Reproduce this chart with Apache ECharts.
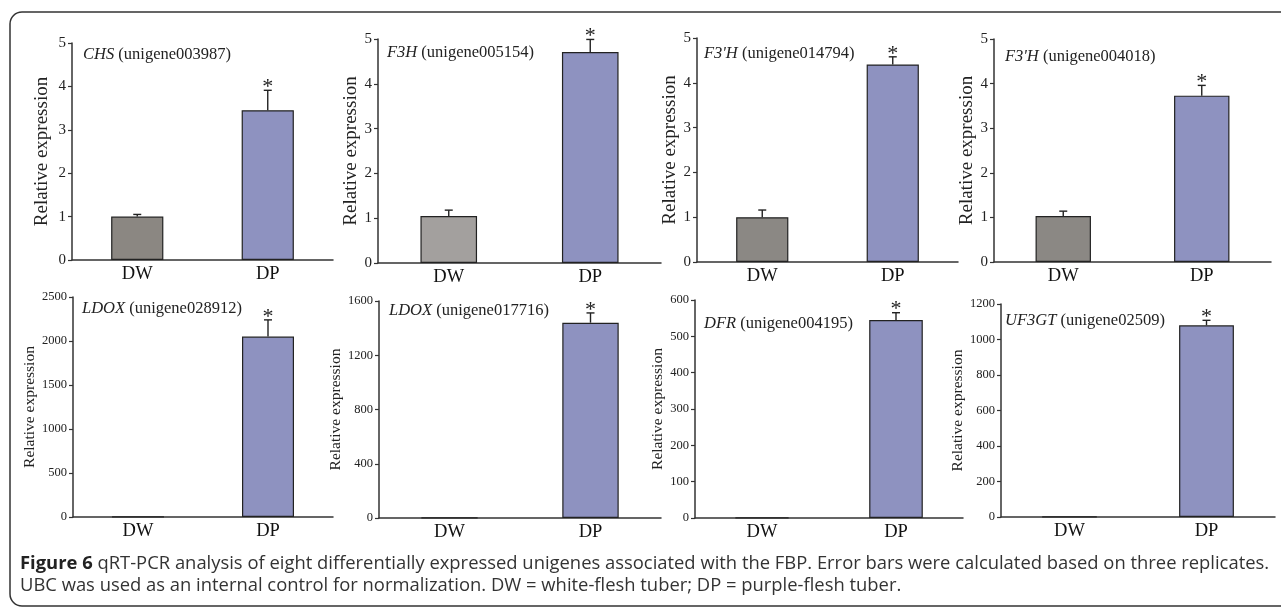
<!DOCTYPE html>
<html><head><meta charset="utf-8">
<script src="https://cdn.jsdelivr.net/npm/echarts@6/dist/echarts.min.js"></script>
<style>html,body{margin:0;padding:0;background:#fff}#c{width:1281px;height:609px}</style>
</head><body><div id="c"></div>
<script>
// ---- data ----
const categories = ['DW', 'DP'];
const genes = ['CHS', 'F3H', "F3'H", "F3'H", 'LDOX', 'LDOX', 'DFR', 'UF3GT'];
const unigeneIds = ['unigene003987', 'unigene005154', 'unigene014794', 'unigene004018',
                    'unigene028912', 'unigene017716', 'unigene004195', 'unigene02509'];
const dwValues = [1.00, 1.05, 1.00, 1.03, 1, 1, 1, 1];
const dwErrors = [0.05, 0.13, 0.16, 0.11, 0, 0, 0, 0];
const dpValues = [3.45, 4.71, 4.41, 3.73, 2050, 1440, 545, 1080];
const dpErrors = [0.46, 0.28, 0.17, 0.23, 190, 72, 20, 28];
const yMaxima = [5, 5, 5, 5, 2500, 1600, 600, 1200];
const yIntervals = [1, 1, 1, 1, 500, 400, 100, 200];
const yAxisName = 'Relative expression';
const captionBold = 'Figure 6';
const captionLine1 = ' qRT-PCR analysis of eight differentially expressed unigenes associated with the FBP. Error bars were calculated based on three replicates.';
const captionLine2 = 'UBC was used as an internal control for normalization. DW = white-flesh tuber; DP = purple-flesh tuber.';

// ---- layout / style ----
const grids = [
  {left: 72,  top: 43,  width: 261, height: 217},
  {left: 378, top: 39,  width: 283, height: 224},
  {left: 697, top: 38,  width: 261, height: 224},
  {left: 994, top: 39,  width: 277, height: 223},
  {left: 73,  top: 297, width: 260, height: 220},
  {left: 379, top: 301, width: 282, height: 217},
  {left: 695, top: 300, width: 268, height: 218},
  {left: 1001,top: 304, width: 274, height: 213}
];
const titlePos = [[83,46],[387,44],[704,45],[1005,48],[82,300],[389,302],[704,315],[1005,312]];
const nameGaps = [20, 13, 16, 13, 16, 25, 14, 18];
const nameSizes = [19, 19, 19, 19, 15.5, 15.5, 15.5, 15.5];
const tickSizes = [15, 15, 15, 15, 12.5, 12.5, 12.5, 12.5];
const dwColors = ['#8b8782', '#a3a09e', '#8b8884', '#8b8884', '#8b8884', '#8b8884', '#8b8884', '#8b8884'];
const dpColor = '#8e92c0';
const serif = "'Liberation Serif', 'Times New Roman', serif";
const axisColor = '#333';
const capFont = "18.4px 'Open Sans', sans-serif";

const option = {
  animation: false,
  backgroundColor: '#fff',
  grid: [], xAxis: [], yAxis: [], series: [], title: [],
  graphic: [
    {type: 'rect', shape: {x: 10, y: 12, width: 1310, height: 594, r: 12},
     style: {fill: 'none', stroke: '#333', lineWidth: 1.5}, silent: true},
    {type: 'text', left: 20, top: 555, style: {
      text: '{b|' + captionBold + '}{n|' + captionLine1 + '}',
      rich: {
        b: {font: "bold " + capFont, fill: '#222'},
        n: {font: capFont, fill: '#333'}
      }}},
    {type: 'text', left: 20, top: 577, style: {
      text: captionLine2, font: capFont, fill: '#333'}}
  ]
};

for (let i = 0; i < 8; i++) {
  option.grid.push(Object.assign({containLabel: false}, grids[i]));
  option.title.push({
    left: titlePos[i][0], top: titlePos[i][1], padding: 0,
    text: '{it|' + genes[i] + '} (' + unigeneIds[i] + ')',
    textStyle: {
      fontFamily: serif, fontSize: 16.5, fontWeight: 'normal', color: '#222',
      rich: {it: {fontFamily: serif, fontSize: 16.5, fontStyle: 'italic', color: '#222'}}
    }
  });
  option.xAxis.push({
    type: 'category', gridIndex: i, data: categories,
    axisLine: {lineStyle: {color: axisColor, width: 1.5}},
    axisTick: {inside: true, length: 5, lineStyle: {color: axisColor, width: 1.5}},
    axisLabel: {color: '#111', fontSize: 18.5, fontFamily: serif, margin: 5}
  });
  option.yAxis.push({
    type: 'value', gridIndex: i, min: 0, max: yMaxima[i], interval: yIntervals[i],
    splitLine: {show: false},
    axisLine: {show: true, lineStyle: {color: axisColor, width: 1.5}},
    axisTick: {show: true, length: 4, lineStyle: {color: axisColor, width: 1.2}},
    axisLabel: {color: '#222', fontSize: tickSizes[i], fontFamily: serif, margin: 6,
                formatter: function (v) { return String(v); }},
    name: yAxisName, nameLocation: 'middle', nameGap: nameGaps[i],
    nameTextStyle: {fontFamily: serif, fontSize: nameSizes[i], color: '#222'}
  });
  option.series.push({
    type: 'bar', xAxisIndex: i, yAxisIndex: i, barWidth: '40%',
    data: [
      {value: dwValues[i], itemStyle: {color: dwColors[i]}},
      {value: dpValues[i], itemStyle: {color: dpColor}}
    ],
    itemStyle: {borderColor: '#222', borderWidth: 1.2}
  });
  option.series.push({
    type: 'custom', xAxisIndex: i, yAxisIndex: i, clip: false, z: 5,
    data: [[0, dwValues[i], dwErrors[i]], [1, dpValues[i], dpErrors[i]]],
    renderItem: function (params, api) {
      const x = api.value(0), v = api.value(1), e = api.value(2);
      const base = api.coord([x, v]);
      const top = api.coord([x, v + e]);
      const st = {stroke: '#222', lineWidth: 1.4};
      const children = [];
      if (e > 0) {
        children.push({type: 'line', shape: {x1: base[0], y1: base[1], x2: top[0], y2: top[1]}, style: st});
        children.push({type: 'line', shape: {x1: top[0] - 4, y1: top[1], x2: top[0] + 4, y2: top[1]}, style: st});
      }
      if (x === 1) {
        children.push({type: 'text', style: {text: '*', x: top[0], y: top[1] - 3,
          textAlign: 'center', textVerticalAlign: 'middle',
          font: "22px 'Liberation Serif', serif", fill: '#222'}});
      }
      return {type: 'group', children: children};
    }
  });
}

const chart = echarts.init(document.getElementById('c'), null, {renderer: 'canvas'});
chart.setOption(option);
</script>
</body></html>
